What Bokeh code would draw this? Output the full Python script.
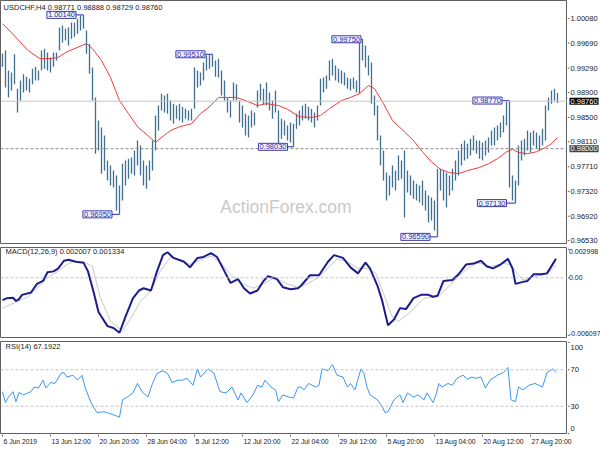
from bokeh.plotting import figure
from bokeh.layouts import column, row
from bokeh.models import Range1d, Label, Span, ColumnDataSource
from bokeh.core.properties import value
from bokeh.embed import file_html
from bokeh.resources import INLINE

# ---------------- data ----------------
title_text = "USDCHF,H4  0.98771 0.98888 0.98729 0.98760"
macd_title = "MACD(12,26,9) 0.002007 0.001334"
rsi_title = "RSI(14) 67.1922"

# one bar per 8 hours (2 H4 bars); x = H4 bar number
bar_high = [
    0.9952, 0.9957, 0.9925, 0.9922, 0.9951, 0.9896, 0.9909, 0.9919, 0.9915, 0.9912,
    0.9928, 0.9931, 0.9925, 0.9957, 0.9960, 0.9954, 0.9946, 0.9954, 0.9954, 0.9994,
    0.9997, 0.9992, 0.9994, 1.0002, 1.0002, 1.0008, 1.0013, 1.0014, 0.9989, 0.9968,
    0.9930, 0.9882, 0.9845, 0.9834, 0.9821, 0.9781, 0.9773, 0.9765, 0.9757, 0.9741,
    0.9776, 0.9781, 0.9784, 0.9786, 0.9797, 0.9813, 0.9805, 0.9781, 0.9773, 0.9781,
    0.9813, 0.9853, 0.9869, 0.9888, 0.9885, 0.9888, 0.9877, 0.9872, 0.9869, 0.9872,
    0.9867, 0.9864, 0.9861, 0.9864, 0.9930, 0.9925, 0.9922, 0.9938, 0.9949, 0.9950,
    0.9951, 0.9941, 0.9944, 0.9925, 0.9909, 0.9882, 0.9877, 0.9906, 0.9903, 0.9877,
    0.9869, 0.9856, 0.9853, 0.9861, 0.9858, 0.9893, 0.9904, 0.9896, 0.9906, 0.9890,
    0.9877, 0.9893, 0.9861, 0.9848, 0.9845, 0.9837, 0.9842, 0.9840, 0.9856, 0.9861,
    0.9869, 0.9872, 0.9867, 0.9864, 0.9858, 0.9869, 0.9912, 0.9914, 0.9917, 0.9941,
    0.9944, 0.9933, 0.9928, 0.9925, 0.9922, 0.9914, 0.9912, 0.9914, 0.9909, 0.9973,
    0.9975, 0.9965, 0.9949, 0.9938, 0.9885, 0.9869, 0.9821, 0.9797, 0.9762, 0.9757,
    0.9773, 0.9765, 0.9789, 0.9781, 0.9797, 0.9765, 0.9757, 0.9749, 0.9744, 0.9741,
    0.9749, 0.9733, 0.9725, 0.9722, 0.9717, 0.9768, 0.9768, 0.9765, 0.9762, 0.9757,
    0.9768, 0.9781, 0.9797, 0.9808, 0.9813, 0.9808, 0.9816, 0.9821, 0.9813, 0.9813,
    0.9810, 0.9813, 0.9818, 0.9829, 0.9834, 0.9837, 0.9842, 0.9853, 0.9876, 0.9877,
    0.9757, 0.9749, 0.9805, 0.9813, 0.9816, 0.9829, 0.9826, 0.9829, 0.9826, 0.9821,
    0.9832, 0.9869, 0.9882, 0.9893, 0.9896, 0.9889,
]
bar_low = [
    0.9931, 0.9898, 0.9882, 0.9893, 0.9903, 0.9858, 0.9877, 0.9890, 0.9893, 0.9890,
    0.9903, 0.9909, 0.9909, 0.9925, 0.9928, 0.9925, 0.9922, 0.9931, 0.9941, 0.9957,
    0.9970, 0.9973, 0.9965, 0.9976, 0.9979, 0.9984, 0.9989, 0.9992, 0.9952, 0.9920,
    0.9877, 0.9792, 0.9797, 0.9760, 0.9765, 0.9749, 0.9741, 0.9738, 0.9701, 0.9695,
    0.9717, 0.9741, 0.9752, 0.9760, 0.9757, 0.9773, 0.9757, 0.9741, 0.9736, 0.9749,
    0.9765, 0.9797, 0.9829, 0.9861, 0.9858, 0.9856, 0.9845, 0.9840, 0.9848, 0.9845,
    0.9842, 0.9848, 0.9845, 0.9845, 0.9864, 0.9898, 0.9901, 0.9909, 0.9925, 0.9928,
    0.9931, 0.9915, 0.9914, 0.9885, 0.9877, 0.9858, 0.9850, 0.9877, 0.9877, 0.9842,
    0.9834, 0.9821, 0.9818, 0.9834, 0.9837, 0.9866, 0.9877, 0.9871, 0.9869, 0.9861,
    0.9848, 0.9858, 0.9808, 0.9816, 0.9821, 0.9813, 0.9810, 0.9803, 0.9832, 0.9837,
    0.9845, 0.9848, 0.9845, 0.9842, 0.9834, 0.9845, 0.9869, 0.9890, 0.9896, 0.9909,
    0.9917, 0.9909, 0.9906, 0.9904, 0.9901, 0.9896, 0.9893, 0.9896, 0.9890, 0.9888,
    0.9941, 0.9930, 0.9917, 0.9872, 0.9853, 0.9813, 0.9773, 0.9749, 0.9717, 0.9725,
    0.9738, 0.9733, 0.9749, 0.9752, 0.9690, 0.9730, 0.9725, 0.9720, 0.9717, 0.9714,
    0.9709, 0.9701, 0.9682, 0.9685, 0.9669, 0.9659, 0.9733, 0.9717, 0.9706, 0.9725,
    0.9733, 0.9749, 0.9757, 0.9773, 0.9781, 0.9784, 0.9789, 0.9797, 0.9792, 0.9784,
    0.9781, 0.9789, 0.9794, 0.9805, 0.9805, 0.9813, 0.9818, 0.9826, 0.9837, 0.9738,
    0.9717, 0.9713, 0.9741, 0.9781, 0.9789, 0.9797, 0.9794, 0.9805, 0.9800, 0.9797,
    0.9805, 0.9813, 0.9861, 0.9872, 0.9877, 0.9873,
]
bar_n = list(range(0, 2 * len(bar_high), 2))

ma_n = [0, 7, 17, 25, 32, 37, 43, 50, 56, 60, 66, 72, 78, 84, 90, 96, 102, 106, 112, 118,
        126, 132, 138, 144, 150, 156, 164, 170, 176, 184, 190, 198, 206, 212, 218, 226, 232, 238, 244, 248,
        254, 260, 268, 274, 280, 286, 292, 298, 304, 310, 318, 324, 330, 336, 340, 344, 350, 356, 362, 366, 370]
ma_v = [1.0000, 0.9983, 0.9957, 0.9944, 0.9944, 0.9946, 0.9955, 0.9962, 0.9968, 0.9960,
        0.9941, 0.9914, 0.9877, 0.9856, 0.9835, 0.9823, 0.9810, 0.9818, 0.9829, 0.9835,
        0.9840, 0.9856, 0.9867, 0.9882, 0.9882, 0.9882, 0.9875, 0.9869, 0.9872, 0.9869,
        0.9863, 0.9851, 0.9850, 0.9853, 0.9864, 0.9877, 0.9882, 0.9888, 0.9901, 0.9896,
        0.9872, 0.9845, 0.9827, 0.9813, 0.9795, 0.9779, 0.9767, 0.9762, 0.9760, 0.9765,
        0.9770, 0.9776, 0.9784, 0.9795, 0.9799, 0.9794, 0.9792, 0.9795, 0.9802, 0.9808, 0.9818]

macd_n = [0, 3, 7, 9, 11, 13, 19, 23, 27, 30, 34, 37, 41, 44, 49, 54, 57, 61, 64, 70,
          74, 78, 82, 87, 91, 94, 99, 103, 107, 110, 114, 121, 125, 130, 134, 139, 143, 147, 152, 157,
          161, 165, 170, 174, 177, 183, 187, 192, 197, 199, 205, 211, 217, 221, 227, 232, 237, 242, 245, 250,
          253, 257, 261, 265, 269, 274, 279, 284, 287, 290, 294, 300, 304, 309, 314, 319, 323, 327, 332, 337,
          340, 342, 347, 350, 354, 359, 363, 367, 369]
macd_v = [-0.00235, -0.00215, -0.0021, -0.00245, -0.00225, -0.0018, -0.00155, -0.00064, -0.00033, 0.00058,
          0.00068, 0.00098, 0.0018, 0.0019, 0.0017, 0.0016, 0.00068, -0.00165, -0.0036, -0.0051,
          -0.0053, -0.0058, -0.0041, -0.00215, -0.00134, -0.0011, -0.00134, 0.00068, 0.0024, 0.0027,
          0.0021, 0.0017, 0.0011, 0.0021, 0.0022, 0.0026, 0.0022, 0.001, -0.00054, -0.00013,
          -0.0011, -0.00165, -0.00134, -0.00033, 0.00017, -0.00013, -0.001, -0.0012, -0.0011, -0.00084,
          0.00027, 0.00027, 0.0017, 0.0024, 0.0021, 0.0011, 0.00047, 0.0016, 0.001, -0.00084,
          -0.00235, -0.005, -0.0044, -0.0032, -0.0033, -0.00215, -0.0018, -0.0018, -0.002, -0.0019,
          -0.00033, -0.00023, 0.00037, 0.0014, 0.0015, 0.0018, 0.0012, 0.001, 0.0014, 0.002,
          0.001, -0.00064, -0.00043, -0.00033, 0.00037, 0.00037, 0.00047, 0.0015, 0.002007]

signal_n = [0, 7, 17, 23, 30, 37, 43, 47, 54, 60, 65, 72, 80, 85, 92, 99, 105, 112, 119, 125,
            132, 139, 145, 152, 159, 167, 174, 181, 190, 197, 203, 210, 217, 223, 230, 237, 243, 249, 254, 260,
            264, 272, 281, 290, 297, 303, 310, 317, 325, 334, 339, 343, 347, 354, 363, 369]
signal_v = [-0.0032, -0.0027, -0.002, -0.0011, 0.0, 0.00068, 0.0014, 0.0017, 0.0017, 0.0012,
            -0.002, -0.0046, -0.0056, -0.0044, -0.0025, -0.00134, 0.00068, 0.0022, 0.0019, 0.0014,
            0.0019, 0.0023, 0.0017, 0.00037, -0.00054, -0.0011, -0.00064, 0.0, -0.00064, -0.001,
            -0.00064, 0.0, 0.001, 0.002, 0.0017, 0.001, 0.001, 0.00047, -0.00165, -0.0042,
            -0.0046, -0.0036, -0.00215, -0.002, -0.001, 0.0, 0.001, 0.0016, 0.0012, 0.0015,
            0.0014, 0.00047, -0.00023, 0.0001, 0.00037, 0.001334]

rsi_n = [0, 2, 4, 7, 9, 11, 14, 19, 21, 24, 27, 29, 32, 35, 39, 41, 43, 47, 50, 53,
         55, 59, 63, 67, 70, 73, 75, 78, 80, 83, 87, 90, 93, 97, 100, 103, 107, 110, 113, 117,
         120, 123, 127, 130, 132, 137, 141, 145, 149, 153, 157, 159, 163, 167, 170, 173, 175, 179, 182, 184,
         187, 191, 194, 197, 199, 201, 204, 209, 211, 213, 217, 220, 223, 227, 230, 232, 235, 239, 241, 243,
         245, 250, 253, 255, 257, 261, 263, 265, 267, 270, 274, 277, 281, 283, 287, 289, 291, 293, 297, 300,
         303, 307, 310, 313, 315, 319, 322, 325, 330, 334, 337, 339, 342, 344, 347, 351, 355, 360, 363, 367, 369]
rsi_v = [46, 34, 40, 46, 35, 45, 42.5, 46, 51, 50, 58.6, 50, 56, 55, 66, 67, 62, 64, 58.6, 64,
         51, 34, 23, 24, 23, 21, 20, 18, 37, 40, 44.6, 55, 46, 40, 55, 66, 69, 66, 56, 58.6,
         58.6, 60.7, 53, 71, 62, 71, 66, 46, 44.6, 51, 37, 44.6, 34, 42.5, 53, 51, 58.6, 51, 48, 35,
         42.5, 40, 39, 51, 51, 48, 55, 51, 53, 71, 69, 75.7, 64, 62, 51, 55, 48, 71, 66, 51,
         42.5, 37, 30, 23, 24, 37, 40, 42.5, 34, 44.6, 40, 42.5, 37, 44.6, 34, 42.5, 55, 51, 55, 53,
         60.7, 64, 59.7, 62, 60.7, 62, 50, 58.6, 64, 67, 72.5, 37, 35, 51, 48, 53, 55, 51, 67, 71, 67.19]

# swing high/low labels: text, price, bar number
swing_text = ["1.00140", "0.99510", "0.99750", "0.98030", "0.96950", "0.96590", "0.98770", "0.97130"]
swing_price = [1.0014, 0.9951, 0.9975, 0.9803, 0.9695, 0.9659, 0.9877, 0.9713]
swing_bar = [54, 140, 240, 194, 78, 290, 338, 342]
swing_box = [49, 135, 239, 190, 73, 285, 333, 336]   # label box anchor (layout)

last_price = 0.98760
level_price = 0.98000

price_ticks = [1.00080, 0.99690, 0.99290, 0.98900, 0.98500, 0.98110, 0.97710, 0.97320, 0.96920, 0.96530]
macd_ticks = [0.002998, 0.0, -0.006097]
macd_tick_labels = ["0.002998", "0.00", "-0.006097"]
rsi_ticks = [100, 70, 30, 0]
time_ticks = [0, 32, 64, 96, 128, 160, 192, 224, 256, 288, 320, 352]
time_labels = ["6 Jun 2019", "13 Jun 12:00", "20 Jun 20:00", "28 Jun 04:00", "5 Jul 12:00",
               "12 Jul 20:00", "22 Jul 04:00", "29 Jul 12:00", "5 Aug 20:00", "13 Aug 04:00",
               "20 Aug 12:00", "27 Aug 20:00"]

# ---------------- style / layout ----------------
FONT = "Liberation Sans"
AX = "#5f5f5f"
TXT = "#202020"
PANEL_W, AXIS_W, LEFT = 567, 33, 0
X0, X1 = -1.33, 376.67
xr = Range1d(X0, X1)


def panel(height, yr, top, bottom):
    p = figure(width=PANEL_W, height=height, x_range=xr, y_range=yr,
               x_axis_location=None, y_axis_location=None, toolbar_location=None,
               output_backend="svg", min_border_left=LEFT, min_border_right=0,
               min_border_top=top, min_border_bottom=bottom)
    p.grid.visible = False
    p.outline_line_color = AX
    p.background_fill_color = "white"
    p.border_fill_color = "white"
    return p


def axis_panel(height, yr, top, bottom, ticks, labels, baselines, offsets, size, xt):
    a = figure(width=AXIS_W, height=height, x_range=Range1d(0, AXIS_W), y_range=yr,
               x_axis_location=None, y_axis_location=None, toolbar_location=None,
               output_backend="svg", min_border_left=0, min_border_right=0,
               min_border_top=top, min_border_bottom=bottom)
    a.grid.visible = False
    a.outline_line_color = None
    a.border_fill_color = "white"
    src = ColumnDataSource(dict(y=ticks, text=labels, tb=baselines, dy=offsets,
                                x0=[0] * len(ticks), x1=[2] * len(ticks), xt=[xt] * len(ticks)))
    a.segment(x0="x0", x1="x1", y0="y", y1="y", source=src, line_color=AX, line_width=1)
    a.text(x="xt", y="y", text="text", source=src, text_font=value(FONT), text_font_size=value(size),
           text_color=TXT, text_align="left", text_baseline="tb", y_offset="dy")
    return a


# main price panel
yr1 = Range1d(0.96484, 1.0037)
p1 = panel(245, yr1, 0, 2)
p1.add_layout(Span(location=last_price, dimension="width", line_color="#c4c4c4", line_width=1))
p1.add_layout(Span(location=level_price, dimension="width", line_color="#8a8a8a", line_width=1,
                   line_dash="3 2"))
p1.add_layout(Label(x=189, y=0.9707, text="ActionForex.com", text_font=FONT, text_font_size="17.5px",
                    text_color="#c9c9c9", text_align="center", text_baseline="middle"))
p1.segment(x0=bar_n, y0=bar_low, x1=bar_n, y1=bar_high, line_color="#41708e", line_width=1.3)
p1.line(ma_n, ma_v, line_color="#f03a3a", line_width=1)
p1.segment(x0=swing_box, y0=swing_price, x1=swing_bar, y1=swing_price, line_color="#2a2aa0", line_width=1)
for t, y, xb in zip(swing_text, swing_price, swing_box):
    p1.add_layout(Label(x=xb, y=y, text=t, text_font=FONT, text_font_size="7.5px", text_color="#2a2aa0",
                        text_align="right", text_baseline="middle", background_fill_color="#f6f6ff",
                        border_line_color="#3a3ab0", border_line_width=1, padding=1))
p1.add_layout(Label(x=0.7, y=1.00258, text=title_text, text_font=FONT, text_font_size="7.5px",
                    text_color=TXT, text_align="left", text_baseline="middle"))

a1 = axis_panel(245, yr1, 0, 2, price_ticks, [f"{t:.5f}" for t in price_ticks],
                ["middle"] * len(price_ticks), [0] * len(price_ticks), "7.5px", 3)
a1.text(x=[2], y=[last_price], text=[f"{last_price:.5f}"], text_font=value(FONT),
        text_font_size=value("7.5px"), text_color="white", text_align="left", text_baseline="middle",
        background_fill_color="black", padding=1)
a1.text(x=[2], y=[level_price], text=[f"{level_price:.5f}"], text_font=value(FONT),
        text_font_size=value("7.5px"), text_color="white", text_align="left", text_baseline="middle",
        background_fill_color="#37474f", padding=1)

# MACD panel
yr2 = Range1d(-0.0063, 0.0032)
p2 = panel(94, yr2, 2, 2)
p2.add_layout(Span(location=0.0, dimension="width", line_color="#c4c4c4", line_width=1, line_dash="3 2"))
p2.line(signal_n, signal_v, line_color="#c8c8c8", line_width=1)
p2.line(macd_n, macd_v, line_color="#1c1c8c", line_width=2)
p2.add_layout(Label(x=2, y=0.00278, text=macd_title, text_font=FONT, text_font_size="7.5px",
                    text_color=TXT, text_align="left", text_baseline="middle"))
a2 = axis_panel(94, yr2, 2, 2, macd_ticks, macd_tick_labels, ["top", "middle", "bottom"], [0, 0, 0], "7px", 1.5)

# RSI panel
yr3 = Range1d(-1, 101)
p3 = panel(95, yr3, 2, 0)
for lv in (70, 30):
    p3.add_layout(Span(location=lv, dimension="width", line_color="#c4c4c4", line_width=1, line_dash="3 2"))
p3.line(rsi_n, rsi_v, line_color="#3c96f0", line_width=1)
p3.add_layout(Label(x=2, y=95.5, text=rsi_title, text_font=FONT, text_font_size="7.5px",
                    text_color=TXT, text_align="left", text_baseline="middle"))
a3 = axis_panel(95, yr3, 2, 0, rsi_ticks, [str(t) for t in rsi_ticks],
                ["middle"] * 4, [5, 0, 0, -5], "7.5px", 3)

# time axis strip (same px per bar as the panels, extended under the price scale)
frame_w = PANEL_W - LEFT
t_end = X0 + (PANEL_W + AXIS_W - LEFT) * (X1 - X0) / frame_w
tf = figure(width=PANEL_W + AXIS_W, height=16, x_range=Range1d(X0, t_end), y_range=Range1d(0, 16),
            x_axis_location=None, y_axis_location=None, toolbar_location=None, output_backend="svg",
            min_border_left=LEFT, min_border_right=0, min_border_top=0, min_border_bottom=0)
tf.grid.visible = False
tf.outline_line_color = None
tsrc = ColumnDataSource(dict(x=time_ticks, text=time_labels, y0=[16] * len(time_ticks),
                             y1=[14] * len(time_ticks), yt=[9] * len(time_ticks)))
tf.segment(x0="x", x1="x", y0="y0", y1="y1", source=tsrc, line_color=AX, line_width=1)
tf.text(x="x", y="yt", text="text", source=tsrc, text_font=value(FONT), text_font_size=value("6.8px"),
        text_color=TXT, text_align="left", text_baseline="middle", x_offset=1)

layout = column(row(p1, a1), row(p2, a2), row(p3, a3), tf)
open("out.html", "w").write(file_html(layout, INLINE))
